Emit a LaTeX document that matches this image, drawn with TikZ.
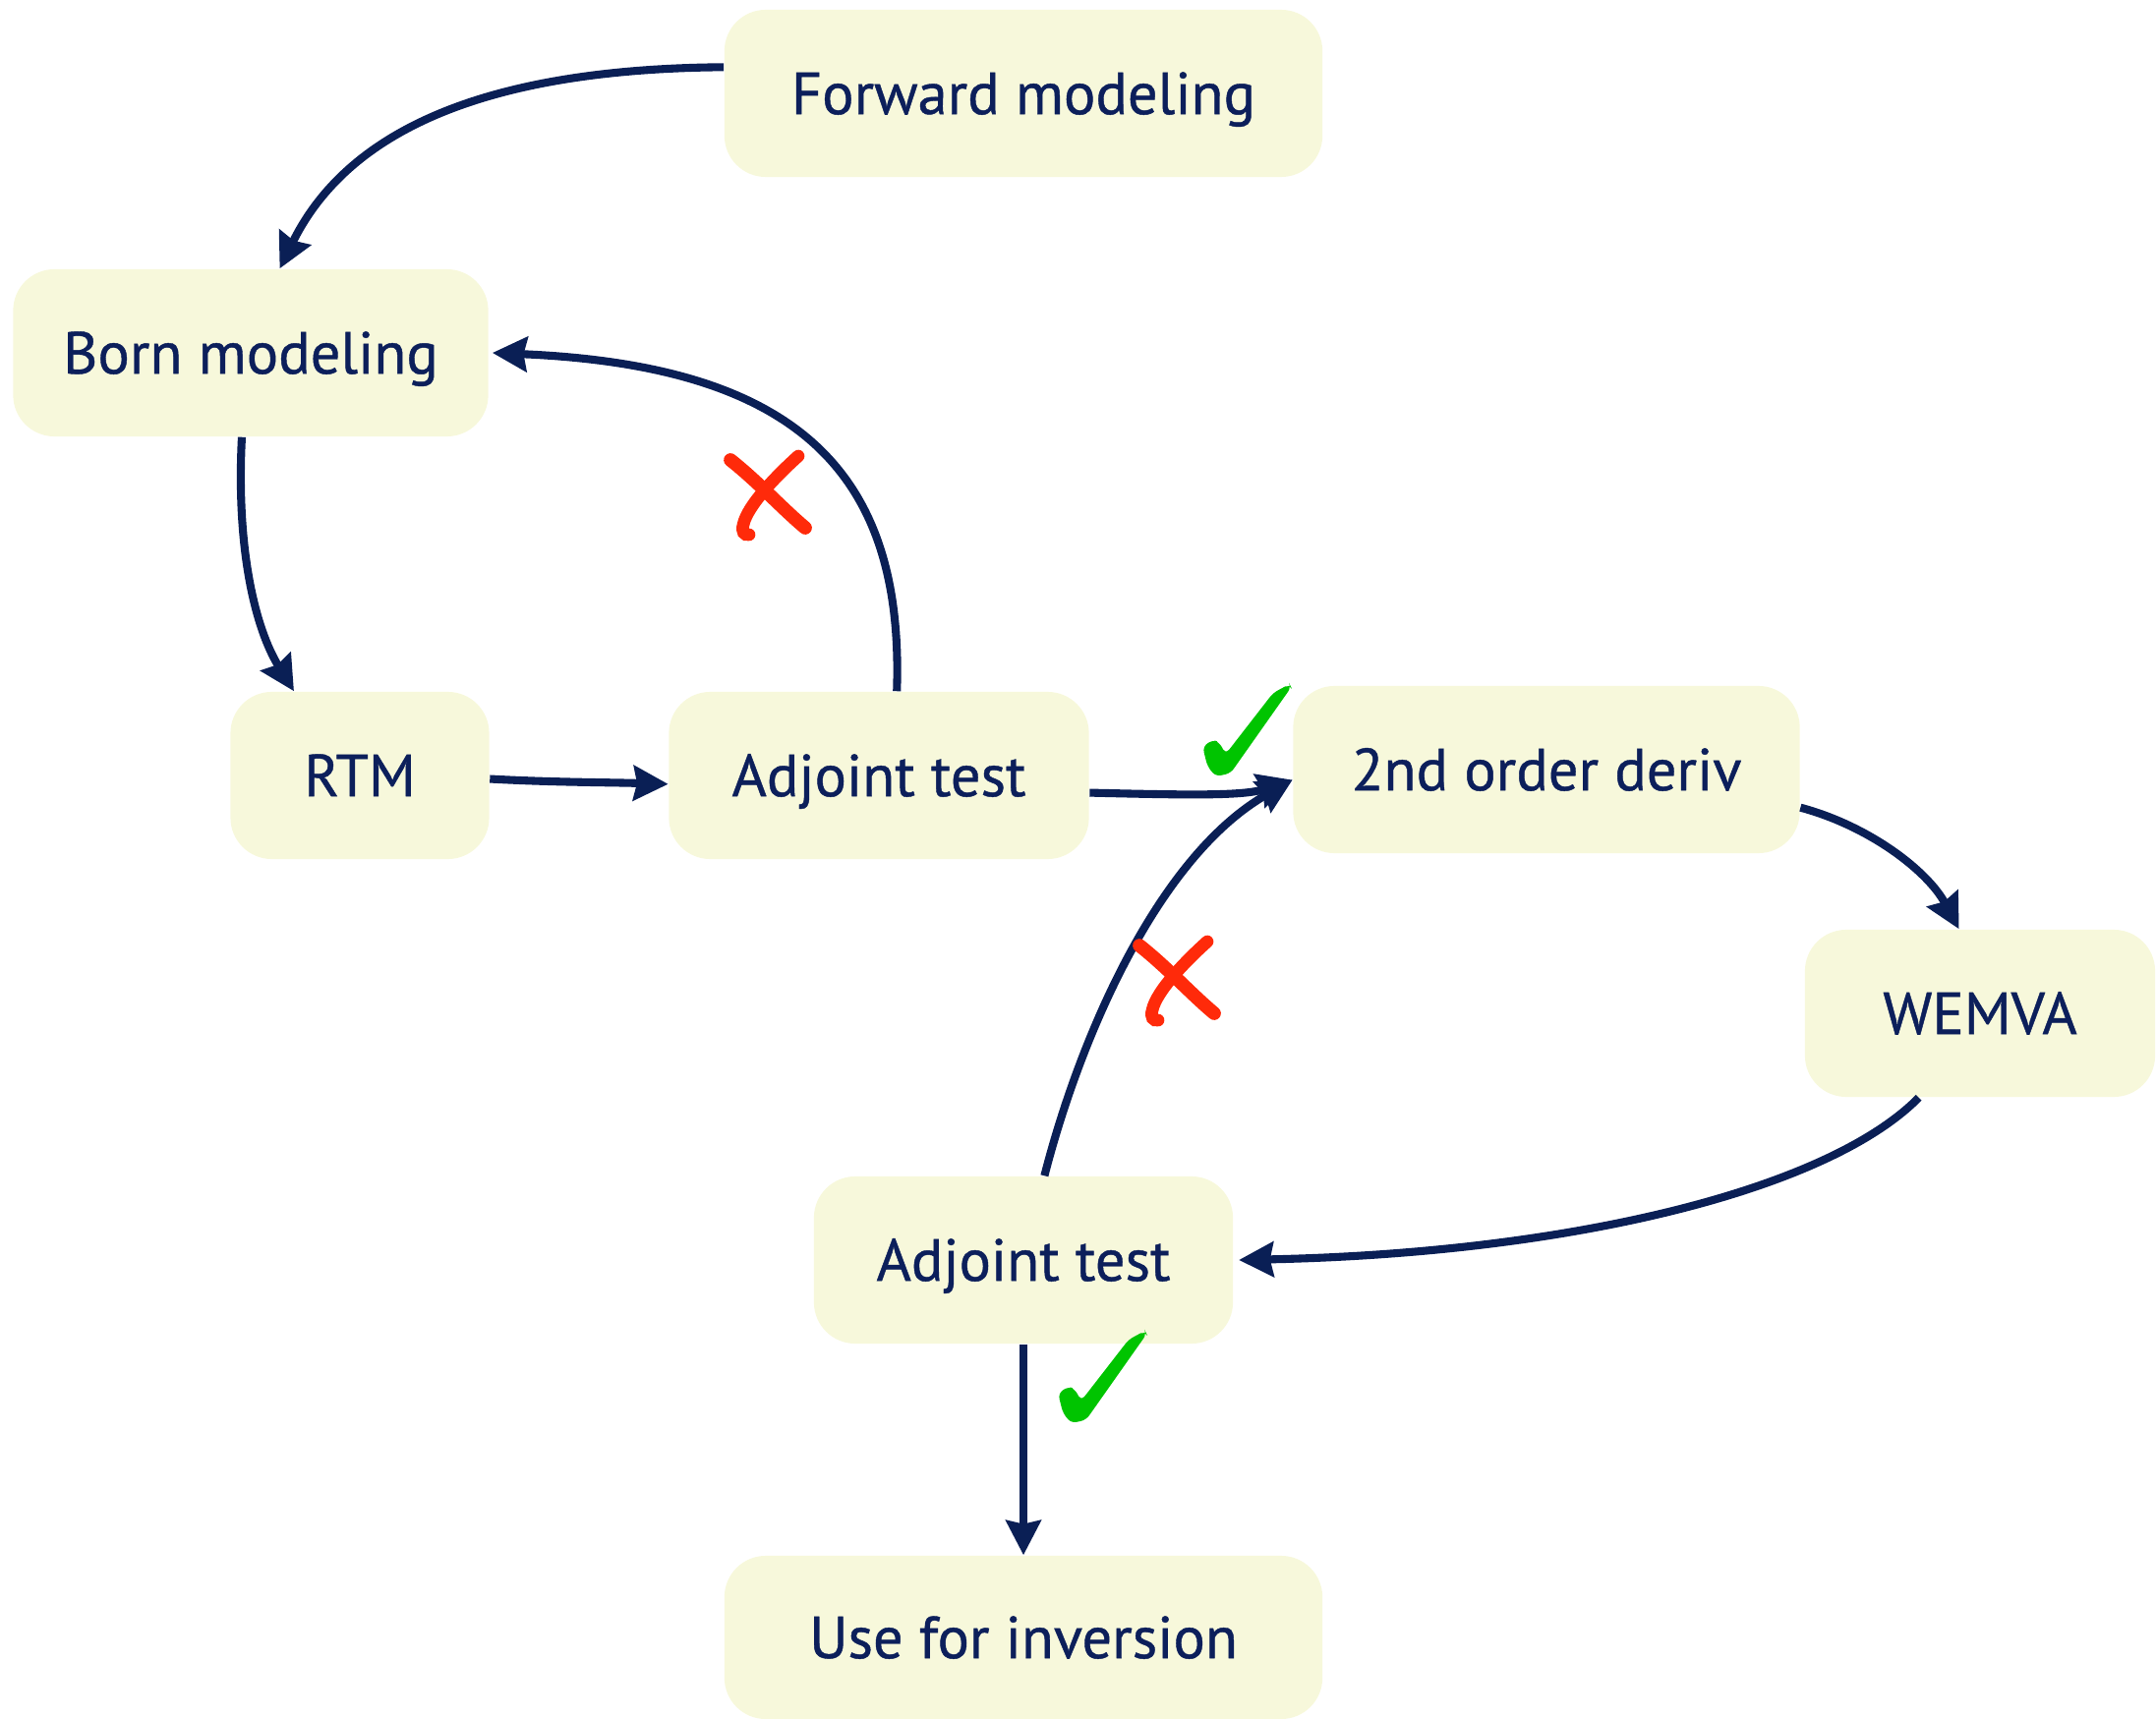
\documentclass[tikz,border=0pt]{standalone}
\usepackage{fontspec}
\setmainfont{PT Sans}
\newfontface\boxfont{PT Sans}[FakeBold=0.7]
\usetikzlibrary{arrows.meta}
\definecolor{boxfill}{HTML}{F7F8DB}
\definecolor{navy}{HTML}{0C1F5B}
\definecolor{arrowc}{HTML}{0A1F55}
\definecolor{crossred}{HTML}{FF2A0A}
\definecolor{checkgreen}{HTML}{00C400}
\begin{document}
\begin{tikzpicture}[x=0.01cm,y=-0.01cm,
  box/.style={rounded corners=0.42cm, fill=boxfill, minimum height=1.7cm, text=navy,
    font=\boxfont\fontsize{17.2}{20}\selectfont, inner sep=0pt, text height=12pt, text depth=0pt},
  conn/.style={draw=arrowc, line width=2.3pt, -{Stealth[length=10pt,width=10pt,inset=1pt]}},
  checkmark/.pic={
    \fill[checkgreen, rounded corners=1.5pt] (-44.7,17) -- (-34.7,9.7) -- (-28,12) -- (-21.3,24.3)
      -- (27,-38) -- (43.7,-47) -- (45.3,-43.7) -- (-16.3,43.7) -- (-31.3,47) -- (-39.7,37) -- cycle;
  },
  crossmark/.pic={
    \draw[crossred, line width=3.9pt, line cap=round] (-39,-36) .. controls (-10,-13) and (12,12) .. (37,33);
    \draw[crossred, line width=3.6pt, line cap=round] (30,-40) .. controls (10,-22) and (-22,10) .. (-26,30)
      .. controls (-28,37) and (-25,41) .. (-20,40);
  }]
\useasboundingbox (0,0) rectangle (2193,1749);

\node[box, minimum width=6.08cm] (fwd) at (1041,95) {Forward modeling};
\node[box, minimum width=4.83cm] (born) at (255,359) {Born modeling};
\node[box, minimum width=2.63cm] (rtm) at (366,789) {RTM};
\node[box, minimum width=4.27cm] (adj1) at (894,789) {Adjoint test};
\node[box, minimum width=5.15cm] (snd) at (1573,783) {2nd order deriv};
\node[box, minimum width=3.56cm] (wemva) at (2014,1031) {WEMVA};
\node[box, minimum width=4.26cm] (adj2) at (1041,1282) {Adjoint test};
\node[box, minimum width=6.08cm, minimum height=1.66cm] (use) at (1041,1666) {Use for inversion};

\draw[conn] (fwd.175) .. controls (520,70) and (360,120) .. (born.71);
\draw[conn] (adj1.78) .. controls (920,480) and (810,372) .. ([xshift=1pt]born.east);
\draw[conn] (born.264) .. controls (240,560) and (260,640) .. (rtm.128);
\draw[conn] ([yshift=-1pt]rtm.east) .. controls (560,796) and (620,796) .. ([yshift=-2.5pt]adj1.west);
\draw[conn] ([yshift=-5pt]adj1.east) .. controls (1210,809) and (1265,810) .. ([yshift=-3pt]snd.west);
\draw[conn] (adj2.76) .. controls (1100,1050) and (1180,870) .. ([yshift=-3pt]snd.west);
\draw[conn] ([yshift=-11pt]snd.east) .. controls (1900,840) and (1960,885) .. (wemva.104);
\draw[conn] (wemva.234) .. controls (1860,1210) and (1600,1275) .. ([xshift=1.5pt]adj2.east);
\draw[conn] (adj2.south) -- (use.north);

\pic at (782,504) {crossmark};
\pic at (1198,998) {crossmark};
\pic at (1268,743) {checkmark};
\pic at (1121,1401) {checkmark};
\end{tikzpicture}
\end{document}
